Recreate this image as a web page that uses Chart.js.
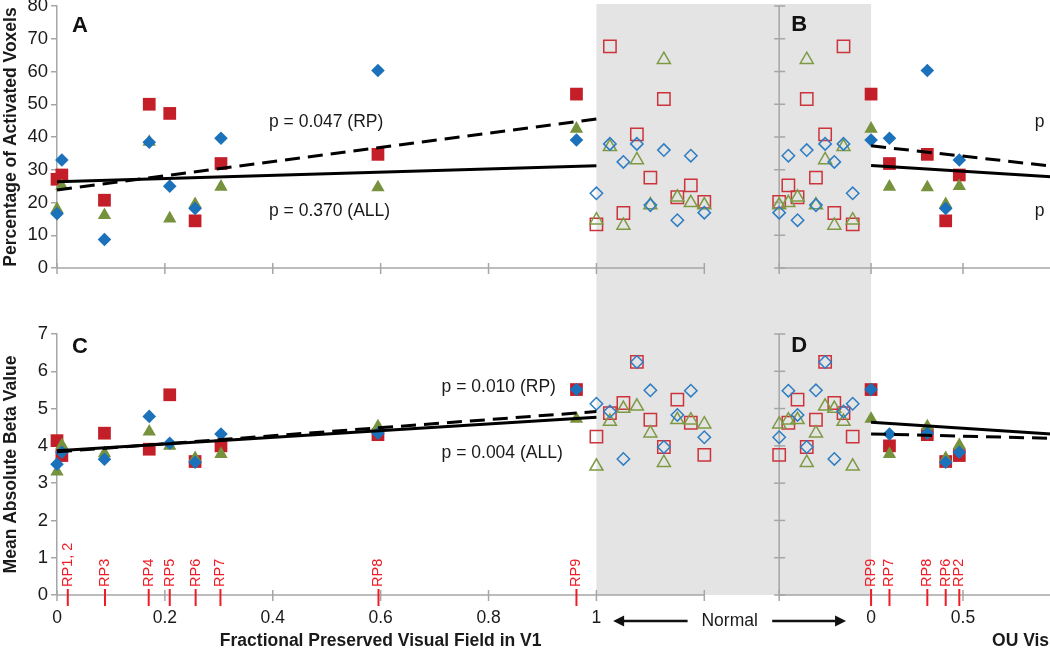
<!DOCTYPE html>
<html>
<head>
<meta charset="utf-8">
<title>Activated voxels and beta values vs preserved visual field</title>
<script src="https://cdn.jsdelivr.net/npm/chart.js@4.4.1/dist/chart.umd.min.js"></script>
<style>
  html, body { margin: 0; padding: 0; overflow: hidden; background: #fff; }
  canvas { position: absolute; left: 0; }
  #topChart { top: -10px; width: 1200px; height: 300px; }
  #bottomChart { top: 290px; width: 1200px; height: 358px; }
</style>
</head>
<body>
<canvas id="topChart" width="1200" height="300"></canvas>
<canvas id="bottomChart" width="1200" height="358"></canvas>
<script>
// patients: fraction of visual field preserved in V1
const rpNames = ['RP1', 'RP2', 'RP3', 'RP4', 'RP5', 'RP6', 'RP7', 'RP8', 'RP9'];
const rpV1 = [0, 0.009, 0.088, 0.171, 0.209, 0.256, 0.304, 0.595, 0.963];

// patients that show up on the OU axis (right panels)
const ouNames = ['RP9', 'RP7', 'RP8', 'RP6', 'RP2'];
const ouField = [0, 0.10, 0.306, 0.406, 0.48];

// normal subjects, spread inside the grey band
const normalV1 = [1.0, 1.025, 1.05, 1.075, 1.1, 1.125, 1.15, 1.175, 1.2];
const normalOU = [-0.1, -0.15, -0.2, -0.25, -0.3, -0.35, -0.4, -0.45, -0.5];

// % activated voxels (patients, by rpNames)
const pctRed   = [27.1, 28.4, 20.7, 50.0, 47.2, 14.4, 31.9, 34.7, 53.1];
const pctGreen = [18.0, 25.0, 16.1, 38.5, 15.1, 19.5, 24.8, 24.6, 42.5];
const pctBlue  = [16.6, 33.0,  8.7, 38.4, 25.0, 18.2, 39.6, 60.3, 39.1];
// % activated voxels (normals)
const normPctRed   = [13.3, 67.7, 16.8, 40.8, 27.6, 51.6, 21.6, 25.2, 20.2];
const normPctGreen = [14.6, 37.0, 13.0, 33.0, 19.2, 63.6, 21.6, 19.9, 19.2];
const normPctBlue  = [22.8, 37.9, 32.4, 37.9, 19.2, 36.0, 14.6, 34.3, 16.9];

// mean absolute beta (patients)
const betaRed   = [4.14, 3.74, 4.34, 3.91, 5.37, 3.58, 4.00, 4.30, 5.51];
const betaGreen = [3.31, 4.02, 3.80, 4.38, 4.00, 3.67, 3.78, 4.52, 4.72];
const betaBlue  = [3.51, 3.83, 3.64, 4.79, 4.07, 3.56, 4.32, 4.34, 5.51];
// mean absolute beta (normals)
const normBetaRed   = [4.25, 4.88, 5.15, 6.25, 4.70, 3.97, 5.24, 4.62, 3.76];
const normBetaGreen = [3.45, 4.65, 5.00, 5.06, 4.34, 3.55, 4.70, 4.69, 4.58];
const normBetaBlue  = [5.13, 4.92, 3.65, 6.25, 5.49, 3.97, 4.83, 5.48, 4.23];

// regression lines (end points)
const fitX = [0, 1];
const fitPctRP = [23.8, 45.5];
const fitPctAll = [26.3, 31.2];
const fitBetaRP = [3.84, 4.92];
const fitBetaAll = [3.87, 4.77];
const ouFitX = [0, 1];
const ouPctRP = [37.3, 31.0];
const ouPctAll = [31.3, 27.8];
const ouBetaRP = [4.32, 4.20];
const ouBetaAll = [4.63, 4.31];

// axis ticks
const v1Ticks = [0, 0.2, 0.4, 0.6, 0.8, 1, 1.2];
const v1TickLabels = ['0', '0.2', '0.4', '0.6', '0.8', '1', ''];
const ouTicks = [-0.5, 0, 0.5, 1];
const ouTickLabels = ['', '0', '0.5', '1'];

// red patient markers along the bottom axis of panel C
const markC = ['RP1, 2', 'RP3', 'RP4', 'RP5', 'RP6', 'RP7', 'RP8', 'RP9'];
const markCx = [0.02, 0.089, 0.170, 0.209, 0.257, 0.303, 0.596, 0.963];

const red = '#c41f28', green = '#76923c', blue = '#1b72bb';
const hRed = '#cc333b', hGreen = '#7d9a43', hBlue = '#2c7dc4';
const rpRed = '#ee1c25';
const axisGrey = '#a6a6a6';
const bandGrey = '#e4e4e4';
const FONT = "'Liberation Sans', Arial, Helvetica, sans-serif";

function pts(xs, ys) {
  return xs.map((x, i) => ({ x: x, y: ys[i] }));
}
function ouPts(vals) {
  return ouNames.map((n, i) => ({ x: ouField[i], y: vals[rpNames.indexOf(n)] }));
}

function fitLine(data, dash, axis) {
  return {
    data: data, xAxisID: axis, showLine: true, borderColor: '#000', borderWidth: 3,
    borderDash: dash, pointRadius: 0, order: 0, clip: false
  };
}
function marks(data, axis, style, color, r, hollow, order) {
  return {
    data: data, xAxisID: axis, pointStyle: style, pointRadius: r, pointHoverRadius: r,
    pointBackgroundColor: hollow ? 'rgba(0,0,0,0)' : color, pointBorderColor: color,
    pointBorderWidth: hollow ? 1.5 : 0, showLine: false, order: order, clip: false
  };
}

function rowDatasets(d) {
  return [
    fitLine(pts(fitX, d.fitAll), [], 'x'),
    fitLine(pts(fitX, d.fitRP), [15, 8], 'x'),
    fitLine(pts(ouFitX, d.ouAll), [], 'xb'),
    fitLine(pts(ouFitX, d.ouRP), [15, 8], 'xb'),
    // patients, filled
    marks(pts(rpV1, d.blue), 'x', 'rectRot', blue, 6.8, false, 1),
    marks(pts(rpV1, d.green), 'x', 'triangle', green, 7.7, false, 2),
    marks(pts(rpV1, d.red), 'x', 'rect', red, 9, false, 3),
    marks(ouPts(d.blue), 'xb', 'rectRot', blue, 6.8, false, 1),
    marks(ouPts(d.green), 'xb', 'triangle', green, 7.7, false, 2),
    marks(ouPts(d.red), 'xb', 'rect', red, 9, false, 3),
    // normals, hollow
    marks(pts(normalV1, d.nBlue), 'x', 'rectRot', hBlue, 6.2, true, 4),
    marks(pts(normalV1, d.nGreen), 'x', 'triangle', hGreen, 7.5, true, 5),
    marks(pts(normalV1, d.nRed), 'x', 'rect', hRed, 8.7, true, 6),
    marks(pts(normalOU, d.nBlue), 'xb', 'rectRot', hBlue, 6.2, true, 4),
    marks(pts(normalOU, d.nGreen), 'xb', 'triangle', hGreen, 7.5, true, 5),
    marks(pts(normalOU, d.nRed), 'xb', 'rect', hRed, 8.7, true, 6)
  ];
}

function text(ctx, s, x, y, font, color, align, base) {
  ctx.font = font;
  ctx.fillStyle = color;
  ctx.textAlign = align || 'left';
  ctx.textBaseline = base || 'middle';
  ctx.fillText(s, x, y);
}

function arrow(ctx, x1, x2, y) {
  const dir = Math.sign(x2 - x1);
  ctx.strokeStyle = '#111';
  ctx.fillStyle = '#111';
  ctx.lineWidth = 2.5;
  ctx.beginPath();
  ctx.moveTo(x1, y);
  ctx.lineTo(x2 - dir * 8, y);
  ctx.stroke();
  ctx.beginPath();
  ctx.moveTo(x2, y);
  ctx.lineTo(x2 - dir * 11, y - 5.5);
  ctx.lineTo(x2 - dir * 11, y + 5.5);
  ctx.closePath();
  ctx.fill();
}

function decor(opt) {
  return {
    id: 'decor',
    beforeDatasetsDraw(chart) {
      const { ctx, chartArea } = chart;
      const { x, xb, y } = chart.scales;
      const y0 = y.getPixelForValue(0);
      const bx = xb.getPixelForValue(-0.5);
      const seg = (x1, y1, x2, y2) => {
        ctx.beginPath(); ctx.moveTo(x1, y1); ctx.lineTo(x2, y2); ctx.stroke();
      };
      ctx.save();
      // grey band for the normal subjects
      const g0 = x.getPixelForValue(1), g1 = xb.getPixelForValue(0);
      const gb = opt.bandBottom === 'axis' ? y0 : opt.bandBottom;
      ctx.fillStyle = bandGrey;
      ctx.fillRect(g0, opt.bandTop, g1 - g0, gb - opt.bandTop);
      // x axes: V1 fraction (left) and OU (right)
      ctx.strokeStyle = axisGrey;
      ctx.lineWidth = 1.5;
      seg(x.getPixelForValue(0), y0, x.getPixelForValue(1.2), y0);
      v1Ticks.forEach(v => { const p = x.getPixelForValue(v); seg(p, y0 - 5, p, y0 + 6); });
      seg(bx, y0, chartArea.right, y0);
      ouTicks.forEach(v => { const p = xb.getPixelForValue(v); seg(p, y0 - 5, p, y0 + 6); });
      // y axis of the right panel, no labels
      seg(bx, y.top, bx, y0);
      y.ticks.forEach(t => { const p = y.getPixelForValue(t.value); seg(bx - 5, p, bx + 6, p); });
      ctx.restore();
    },
    afterDraw(chart) {
      const { ctx } = chart;
      const { x, xb, y } = chart.scales;
      const y0 = y.getPixelForValue(0);
      const bx = xb.getPixelForValue(-0.5);
      ctx.save();
      const bold22 = 'bold 22px ' + FONT;
      text(ctx, opt.letters[0], x.getPixelForValue(0) + 23, y.top + opt.letterDy, bold22, '#111', 'center');
      text(ctx, opt.letters[1], bx + 20, y.top + opt.letterDy - 1, bold22, '#111', 'center');
      opt.pLabels.forEach(p => {
        const sc = chart.scales[p.axis];
        text(ctx, p.text, sc.getPixelForValue(p.x), y.getPixelForValue(p.y), '17.5px ' + FONT, '#1a1a1a');
      });
      if (opt.bottom) {
        const tf = '17.5px ' + FONT;
        v1Ticks.forEach((v, i) => text(ctx, v1TickLabels[i], x.getPixelForValue(v), y0 + 23, tf, '#1a1a1a', 'center'));
        ouTicks.forEach((v, i) => text(ctx, ouTickLabels[i], xb.getPixelForValue(v), y0 + 23, tf, '#1a1a1a', 'center'));
        // red patient markers
        const drawMark = (label, px) => {
          ctx.strokeStyle = rpRed;
          ctx.lineWidth = 2;
          ctx.beginPath(); ctx.moveTo(px, y0 - 6); ctx.lineTo(px, y0 + 11); ctx.stroke();
          ctx.save();
          ctx.translate(px, y0 - 8);
          ctx.rotate(-Math.PI / 2);
          text(ctx, label, 0, 0, '14.5px ' + FONT, rpRed, 'left', 'middle');
          ctx.restore();
        };
        markC.forEach((m, i) => drawMark(m, x.getPixelForValue(markCx[i])));
        ouNames.forEach((m, i) => drawMark(m, xb.getPixelForValue(ouField[i])));
        // Normal label with arrows
        const ay = y0 + 26;
        arrow(ctx, x.getPixelForValue(1.169), x.getPixelForValue(1.031), ay);
        arrow(ctx, xb.getPixelForValue(-0.538), xb.getPixelForValue(-0.136), ay);
        text(ctx, 'Normal', x.getPixelForValue(1.247), ay, '17.5px ' + FONT, '#1a1a1a', 'center');
        // axis titles
        const bf = 'bold 17.5px ' + FONT;
        text(ctx, 'Fractional Preserved Visual Field in V1', x.getPixelForValue(0.6), y0 + 46, bf, '#1a1a1a', 'center');
        text(ctx, 'OU Visual Field Loss', xb.getPixelForValue(0.658), y0 + 46, bf, '#1a1a1a', 'left');
      }
      ctx.restore();
    }
  };
}

function yAxis(max, step, title) {
  return {
    type: 'linear', min: 0, max: max,
    afterFit: s => { s.width = 57; },
    ticks: { stepSize: step, color: '#1a1a1a', padding: 3, font: { family: FONT, size: 18.5 } },
    grid: { drawOnChartArea: false, drawTicks: true, tickLength: 6, color: axisGrey, lineWidth: 1.5 },
    border: { color: axisGrey, width: 1.5 },
    title: { display: true, text: title, color: '#1a1a1a', padding: { top: 1, bottom: 0 },
             font: { family: FONT, size: 17.5, weight: 'bold' } }
  };
}

// x range chosen so that V1 0..1 spans 540 px and OU steps are 184 px per unit
const v1Max = 2.1;
const ouMin = -4.429, ouMax = 1.734;

function makeChart(id, datasets, yOpts, padding, plugin) {
  return new Chart(document.getElementById(id), {
    type: 'scatter',
    data: { datasets: datasets },
    options: {
      responsive: false,
      animation: false,
      events: [],
      layout: { padding: padding },
      plugins: { legend: { display: false }, tooltip: { enabled: false } },
      scales: {
        x: { type: 'linear', min: 0, max: v1Max, display: false },
        xb: { type: 'linear', axis: 'x', min: ouMin, max: ouMax, display: false },
        y: yOpts
      }
    },
    plugins: [plugin]
  });
}

makeChart('topChart',
  rowDatasets({
    red: pctRed, green: pctGreen, blue: pctBlue,
    nRed: normPctRed, nGreen: normPctGreen, nBlue: normPctBlue,
    fitRP: fitPctRP, fitAll: fitPctAll, ouRP: ouPctRP, ouAll: ouPctAll
  }),
  yAxis(80, 10, 'Percentage of Activated Voxels'),
  { top: 16, bottom: 22, left: 0, right: 9 },
  decor({
    bandTop: 14, bandBottom: 300, letters: ['A', 'B'], letterDy: 20, bottom: false,
    pLabels: [
      { text: 'p = 0.047 (RP)', axis: 'x', x: 0.393, y: 44.6 },
      { text: 'p = 0.370 (ALL)', axis: 'x', x: 0.393, y: 17.4 },
      { text: 'p', axis: 'xb', x: 0.891, y: 44.6 },
      { text: 'p', axis: 'xb', x: 0.891, y: 17.4 }
    ]
  })
);

makeChart('bottomChart',
  rowDatasets({
    red: betaRed, green: betaGreen, blue: betaBlue,
    nRed: normBetaRed, nGreen: normBetaGreen, nBlue: normBetaBlue,
    fitRP: fitBetaRP, fitAll: fitBetaAll, ouRP: ouBetaRP, ouAll: ouBetaAll
  }),
  yAxis(7, 1, 'Mean Absolute Beta Value'),
  { top: 44, bottom: 53, left: 0, right: 9 },
  decor({
    bandTop: 0, bandBottom: 'axis', letters: ['C', 'D'], letterDy: 13, bottom: true,
    pLabels: [
      { text: 'p = 0.010 (RP)', axis: 'x', x: 0.713, y: 5.58 },
      { text: 'p = 0.004 (ALL)', axis: 'x', x: 0.713, y: 3.81 }
    ]
  })
);
</script>
</body>
</html>
